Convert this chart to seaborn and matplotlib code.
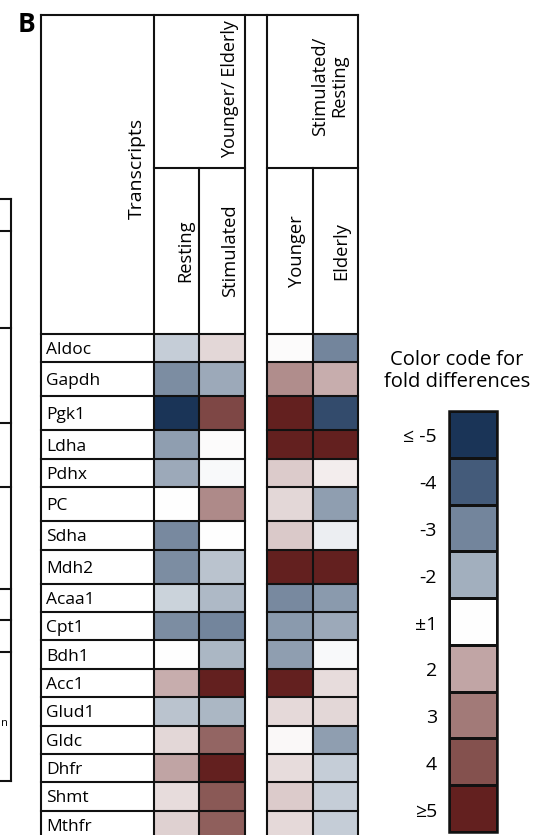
import numpy as np
import pandas as pd
import matplotlib
matplotlib.use("Agg")
import matplotlib.pyplot as plt
import seaborn as sns
from matplotlib.colors import LinearSegmentedColormap

# -----------------------------
# Data (fold differences)
# -----------------------------
transcripts = ["Aldoc", "Gapdh", "Pgk1", "Ldha", "Pdhx", "PC", "Sdha", "Mdh2", "Acaa1",
               "Cpt1", "Bdh1", "Acc1", "Glud1", "Gldc", "Dhfr", "Shmt", "Mthfr"]

# Younger / Elderly
resting_ye = [-1.6, -2.8, -5.0, -2.4, -2.1, 1.03, -2.9, -2.8, -1.55,
              -2.8, 1.03, 1.93, -1.75, 1.46, 2.06, 1.39, 1.5]
stimulated_ye = [1.46, -2.1, 4.2, 1.05, -1.07, 2.65, 1.02, -1.75, -1.85,
                 -3.0, -1.9, 5.0, -1.9, 3.5, 5.0, 3.83, 3.67]
# Stimulated / Resting
younger_sr = [1.05, 2.58, 5.0, 5.0, 1.59, 1.46, 1.62, 5.0, -2.9,
              -2.5, -2.4, 5.0, 1.42, 1.08, 1.4, 1.59, 1.42]
elderly_sr = [-3.0, 1.92, -4.4, 5.0, 1.2, -2.4, -1.2, 5.0, -2.5,
              -2.1, -1.07, 1.38, 1.46, -2.4, -1.6, -1.6, -1.6]

legend_labels = ["\u2264 -5", "-4", "-3", "-2", "\u00b11", "2", "3", "4", "\u22655"]
legend_levels = [-5, -4, -3, -2, 1, 2, 3, 4, 5]
legend_colors = ["#1a3457", "#445b7a", "#73859c", "#a1aebd", "#ffffff",
                 "#c2a6a6", "#a37b79", "#85524f", "#63201f"]


def fold_to_score(f):
    # -5..-2, +-1, 2..5  ->  -4..4 (linear steps of the colour code)
    f = np.asarray(f, dtype=float)
    return np.clip(np.sign(f) * (np.abs(f) - 1), -4, 4)


cmap = LinearSegmentedColormap.from_list("fold", legend_colors)

# -----------------------------
# Layout (pixels)
# -----------------------------
W, H = 537, 835
row_units = [5, 6, 6, 5, 5, 6, 5, 6, 5, 5, 5, 5, 5, 5, 5, 5, 5]  # relative row heights
col_units = [2, 2, 1, 2, 2]                                      # Resting, Stim, gap, Younger, Elderly
table_top, head_split, data_top, unit = 15, 167.7, 334, 5.674
cx = [40.7, 154, 199.3, 244.7, 267.3, 312.7, 358]
data_bottom = data_top + unit * sum(row_units)
lw = 1.5
ink = "#111111"

plt.rcParams["font.family"] = ["Open Sans", "DejaVu Sans"]
fig = plt.figure(figsize=(W / 100, H / 100), dpi=100)


def px_axes(x0, y0, x1, y1):
    return fig.add_axes([x0 / W, 1 - y1 / H, (x1 - x0) / W, (y1 - y0) / H])


# -----------------------------
# Heatmap
# -----------------------------
df = pd.DataFrame({"Resting": resting_ye, "Stimulated": stimulated_ye,
                   "gap": np.nan, "Younger": younger_sr, "Elderly": elderly_sr},
                  index=transcripts)
scores = df.apply(fold_to_score)
grid = np.repeat(np.repeat(scores.values, row_units, axis=0), col_units, axis=1)

hm = px_axes(cx[1], data_top, cx[6], data_bottom)
sns.heatmap(grid, ax=hm, cmap=cmap, vmin=-4, vmax=4, cbar=False,
            xticklabels=False, yticklabels=False)
hm.set_facecolor("white")

# legend bar
lg = px_axes(449, 411, 497, 832)
sns.heatmap(fold_to_score(legend_levels).reshape(-1, 1), ax=lg, cmap=cmap, vmin=-4, vmax=4,
            cbar=False, linewidths=2, linecolor=ink, xticklabels=False, yticklabels=False)

# -----------------------------
# Overlay: grid lines and text
# -----------------------------
ov = fig.add_axes([0, 0, 1, 1])
ov.set_xlim(0, W)
ov.set_ylim(H, 0)
ov.axis("off")


def line(xs, ys, w=lw):
    ov.plot(xs, ys, color=ink, lw=w, solid_capstyle="projecting")


y_rows = data_top + unit * np.concatenate([[0], np.cumsum(row_units)])
for y in y_rows:
    line([cx[0], cx[3]], [y, y])
    line([cx[4], cx[6]], [y, y])
line([cx[0], cx[6]], [table_top, table_top])
line([cx[1], cx[3]], [head_split, head_split])
line([cx[4], cx[6]], [head_split, head_split])
for i, x in enumerate(cx):
    y0 = head_split if i in (2, 5) else table_top
    line([x, x], [y0, data_bottom])

# legend outer border
ov.add_patch(plt.Rectangle((449, 411), 48, 421, fill=False, ec=ink, lw=1.8))

# neighbouring panel (cut off on the left)
left_rows = [199, 231, 328, 423, 487, 589, 620, 652, 781]
for y in left_rows:
    line([0, 11], [y, y])
line([11, 11], [left_rows[0], left_rows[-1]])
ov.text(0.5, 723, "n", ha="left", va="center", fontsize=8)

ov.text(26, 24, "B", ha="center", va="center", fontsize=19, fontweight="bold")
ov.text(137, 168, "Transcripts", rotation=90, ha="center", va="center", fontsize=14)
ov.text(230, 89, "Younger/ Elderly", rotation=90, ha="center", va="center", fontsize=13)
ov.text(330, 86, "Stimulated/\nResting", rotation=90, ha="center", va="center",
        fontsize=13.2, linespacing=1.1)
for x, name in zip([185, 230, 297, 341], ["Resting", "Stimulated", "Younger", "Elderly"]):
    ov.text(x, 251, name, rotation=90, ha="center", va="center", fontsize=13.2)

for i, name in enumerate(transcripts):
    yc = (y_rows[i] + y_rows[i + 1]) / 2 + 2
    ov.text(46, yc, name, ha="left", va="center", fontsize=12.5)

ov.text(457, 371, "Color code for\nfold differences", ha="center", va="center",
        fontsize=14.5, linespacing=1.1)
box_h = 421 / len(legend_labels)
for i, lab in enumerate(legend_labels):
    ov.text(437, 411 + box_h * (i + 0.5) + 3, lab, ha="right", va="center", fontsize=14)

fig.savefig("out.png", dpi=100)
